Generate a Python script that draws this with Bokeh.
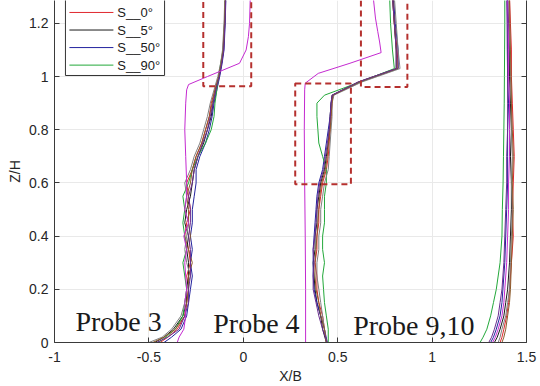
from bokeh.plotting import figure
from bokeh.models import Range1d, LinearAxis, FixedTicker, Label
from bokeh.core.properties import value
from bokeh.embed import file_html
from bokeh.resources import INLINE

# ---- axes ----
X_TICKS = [-1, -0.5, 0, 0.5, 1, 1.5]
X_TICK_LABELS = ["-1", "-0.5", "0", "0.5", "1", "1.5"]
Y_TICKS = [0, 0.2, 0.4, 0.6, 0.8, 1.0, 1.2]
Y_TICK_LABELS = ["0", "0.2", "0.4", "0.6", "0.8", "1", "1.2"]

SERIES_NAMES = ["S__0°", "S__5°", "S__50°", "S__90°"]

# ---- Probe 3 profiles (X/B at each Z/H) ----
P3_Z = [0, 0.02, 0.05, 0.1, 0.15, 0.2, 0.25, 0.3, 0.35, 0.4, 0.45, 0.5, 0.55,
        0.6, 0.65, 0.7, 0.75, 0.8, 0.85, 0.9, 0.95, 1.0, 1.05, 1.1, 1.2, 1.3]
P3_RED = [-0.44, -0.40, -0.35, -0.31, -0.30, -0.29, -0.30, -0.28, -0.29, -0.31, -0.30, -0.28, -0.29,
          -0.30, -0.27, -0.25, -0.22, -0.20, -0.18, -0.17, -0.15, -0.13, -0.118, -0.108, -0.10, -0.097]
P3_BLACK = [-0.47, -0.42, -0.37, -0.32, -0.30, -0.30, -0.29, -0.29, -0.30, -0.29, -0.31, -0.30, -0.28,
            -0.27, -0.26, -0.24, -0.21, -0.19, -0.17, -0.16, -0.145, -0.128, -0.115, -0.105, -0.098, -0.094]
P3_BLUE = [-0.42, -0.38, -0.33, -0.30, -0.29, -0.28, -0.27, -0.28, -0.27, -0.28, -0.27, -0.27, -0.26,
           -0.25, -0.25, -0.23, -0.20, -0.18, -0.165, -0.155, -0.14, -0.125, -0.112, -0.102, -0.096, -0.092]
P3_GREEN = [-0.45, -0.41, -0.36, -0.32, -0.31, -0.30, -0.31, -0.32, -0.30, -0.31, -0.32, -0.31, -0.32,
            -0.29, -0.27, -0.24, -0.20, -0.17, -0.155, -0.15, -0.14, -0.13, -0.12, -0.107, -0.10, -0.096]
P3_GRAY = [-0.50, -0.43, -0.38, -0.33, -0.31, -0.30, -0.28, -0.30, -0.31, -0.30, -0.29, -0.31, -0.30,
           -0.31, -0.28, -0.26, -0.23, -0.21, -0.19, -0.175, -0.155, -0.135, -0.12, -0.11, -0.102, -0.098]
P3_BROWN = [-0.48, -0.42, -0.36, -0.31, -0.30, -0.29, -0.29, -0.27, -0.29, -0.28, -0.29, -0.29, -0.30,
            -0.28, -0.27, -0.25, -0.22, -0.20, -0.18, -0.165, -0.15, -0.13, -0.117, -0.106, -0.099, -0.095]
P3_PURPLE = [-0.46, -0.40, -0.34, -0.31, -0.29, -0.29, -0.28, -0.28, -0.28, -0.29, -0.28, -0.28, -0.29,
             -0.27, -0.26, -0.24, -0.215, -0.19, -0.175, -0.16, -0.145, -0.127, -0.114, -0.104, -0.097, -0.093]
P3_MAG_Z = [0, 0.02, 0.05, 0.1, 0.15, 0.2, 0.25, 0.3, 0.35, 0.4, 0.45, 0.5, 0.55,
            0.6, 0.7, 0.8, 0.9, 0.95, 0.97, 1.0, 1.05, 1.1, 1.15, 1.2, 1.3]
P3_MAG = [-0.35, -0.34, -0.315, -0.305, -0.31, -0.30, -0.305, -0.31, -0.30, -0.315, -0.29, -0.31, -0.30,
          -0.30, -0.305, -0.31, -0.305, -0.30, -0.29, -0.19, -0.02, 0.015, 0.027, 0.033, 0.037]

# ---- Probe 4 profiles ----
P4_Z = [0, 0.05, 0.1, 0.15, 0.2, 0.25, 0.3, 0.35, 0.4, 0.45, 0.5, 0.55, 0.6,
        0.65, 0.7, 0.75, 0.8, 0.85, 0.9, 0.93, 0.98, 1.03, 1.1, 1.2, 1.3]
P4_RED = [0.44, 0.43, 0.42, 0.40, 0.39, 0.39, 0.38, 0.39, 0.39, 0.40, 0.40, 0.41, 0.42,
          0.44, 0.45, 0.455, 0.46, 0.465, 0.47, 0.475, 0.62, 0.82, 0.815, 0.80, 0.795]
P4_BLACK = [0.44, 0.42, 0.41, 0.39, 0.38, 0.375, 0.37, 0.38, 0.38, 0.39, 0.39, 0.40, 0.41,
            0.43, 0.44, 0.45, 0.455, 0.46, 0.465, 0.47, 0.61, 0.81, 0.81, 0.80, 0.79]
P4_BLUE = [0.445, 0.43, 0.41, 0.39, 0.375, 0.37, 0.37, 0.37, 0.375, 0.38, 0.385, 0.39, 0.40,
           0.42, 0.43, 0.44, 0.45, 0.46, 0.465, 0.475, 0.62, 0.82, 0.82, 0.805, 0.795]
P4_GREEN = [0.45, 0.45, 0.44, 0.43, 0.425, 0.42, 0.43, 0.42, 0.42, 0.43, 0.43, 0.43, 0.44,
            0.44, 0.42, 0.40, 0.395, 0.39, 0.39, 0.43, 0.62, 0.80, 0.79, 0.78, 0.775]
P4_GRAY = [0.44, 0.43, 0.42, 0.41, 0.40, 0.39, 0.39, 0.40, 0.40, 0.41, 0.41, 0.42, 0.43,
           0.45, 0.455, 0.46, 0.465, 0.47, 0.47, 0.48, 0.63, 0.83, 0.82, 0.81, 0.80]
P4_BROWN = [0.44, 0.43, 0.41, 0.40, 0.385, 0.38, 0.38, 0.385, 0.39, 0.395, 0.40, 0.405, 0.415,
            0.435, 0.445, 0.45, 0.46, 0.465, 0.47, 0.475, 0.615, 0.815, 0.81, 0.80, 0.79]
P4_PURPLE = [0.445, 0.42, 0.40, 0.385, 0.37, 0.37, 0.375, 0.37, 0.38, 0.385, 0.39, 0.395, 0.405,
             0.425, 0.435, 0.445, 0.455, 0.46, 0.465, 0.47, 0.61, 0.81, 0.81, 0.80, 0.79]
P4_MAG_Z = [0, 0.2, 0.4, 0.6, 0.8, 0.95, 0.975, 1.012, 1.05, 1.09, 1.13, 1.17, 1.22, 1.3]
P4_MAG = [0.33, 0.33, 0.328, 0.325, 0.323, 0.325, 0.328, 0.397, 0.565, 0.73, 0.722, 0.712, 0.70, 0.688]

# ---- Probe 9,10 profiles ----
P9_Z = [0, 0.02, 0.05, 0.1, 0.15, 0.2, 0.3, 0.4, 0.5, 0.6, 0.7, 0.8, 0.9, 1.0, 1.1, 1.2, 1.3]
P9_RED = [1.36, 1.37, 1.38, 1.395, 1.405, 1.41, 1.42, 1.43, 1.425, 1.43, 1.435, 1.43, 1.425, 1.42, 1.42, 1.415, 1.41]
P9_BLACK = [1.33, 1.345, 1.36, 1.38, 1.39, 1.40, 1.41, 1.415, 1.42, 1.42, 1.415, 1.42, 1.415, 1.41, 1.41, 1.405, 1.40]
P9_BLUE = [1.31, 1.325, 1.34, 1.36, 1.37, 1.375, 1.385, 1.39, 1.395, 1.40, 1.40, 1.40, 1.405, 1.40, 1.40, 1.40, 1.398]
P9_GREEN = [1.254, 1.27, 1.29, 1.31, 1.325, 1.34, 1.36, 1.37, 1.372, 1.376, 1.378, 1.38, 1.382, 1.383, 1.384, 1.385, 1.385]
P9_GRAY = [1.35, 1.36, 1.37, 1.39, 1.40, 1.41, 1.415, 1.42, 1.425, 1.42, 1.425, 1.42, 1.42, 1.415, 1.412, 1.41, 1.405]
P9_BROWN = [1.37, 1.38, 1.39, 1.40, 1.41, 1.415, 1.42, 1.425, 1.43, 1.425, 1.43, 1.425, 1.42, 1.418, 1.415, 1.412, 1.41]
P9_PURPLE = [1.30, 1.315, 1.33, 1.35, 1.36, 1.37, 1.38, 1.385, 1.39, 1.395, 1.395, 1.40, 1.40, 1.40, 1.398, 1.397, 1.395]
P9_MAG = [1.32, 1.335, 1.35, 1.37, 1.38, 1.385, 1.395, 1.40, 1.405, 1.405, 1.41, 1.41, 1.41, 1.405, 1.405, 1.403, 1.40]

# ---- highlighted zones (dashed boxes) ----
BOX_LEFT = [-0.212, 0.275, 0.623]
BOX_RIGHT = [0.042, 0.570, 0.869]
BOX_BOTTOM = [0.964, 0.595, 0.961]
BOX_TOP = [1.40, 0.974, 1.40]

RED, BLACK, BLUE, GREEN = "#e0282e", "#1a1a1a", "#23239e", "#23a83a"
MAGENTA, GRAY, BROWN, PURPLE = "#c42ad0", "#808080", "#8c5a2b", "#6b2d8f"
AXIS_COLOR = "#3a3a3a"
TEXT_COLOR = "#262626"
FONT = "Liberation Sans"

p = figure(width=540, height=386, x_range=Range1d(-1, 1.5), y_range=Range1d(0, 1.286),
           output_backend="svg", toolbar_location=None,
           min_border_left=54, min_border_right=14, min_border_top=0, min_border_bottom=43)
p.outline_line_color = None
p.background_fill_color = "white"
p.border_fill_color = "white"

# grid
p.xgrid.ticker = FixedTicker(ticks=X_TICKS)
p.ygrid.ticker = FixedTicker(ticks=Y_TICKS)
p.grid.grid_line_color = "#e9e9e9"
p.grid.grid_line_width = 1

# axes
for ax, ticks, labels in ((p.xaxis[0], X_TICKS, X_TICK_LABELS), (p.yaxis[0], Y_TICKS, Y_TICK_LABELS)):
    ax.ticker = FixedTicker(ticks=ticks)
    ax.major_label_overrides = dict(zip(ticks, labels))
    ax.major_tick_in = 5
    ax.major_tick_out = 0
    ax.minor_tick_line_color = None
    ax.axis_line_color = AXIS_COLOR
    ax.major_tick_line_color = AXIS_COLOR
    ax.major_label_text_color = TEXT_COLOR
    ax.major_label_text_font = FONT
    ax.major_label_text_font_size = "14px"
    ax.axis_label_text_font = FONT
    ax.axis_label_text_font_size = "14px"
    ax.axis_label_text_font_style = "normal"
    ax.axis_label_text_color = TEXT_COLOR

p.xaxis.axis_label = "X/B"
p.yaxis.axis_label = "Z/H"
p.xaxis.major_label_standoff = 9
p.xaxis.axis_label_standoff = 3
p.yaxis.major_label_standoff = 6
p.yaxis.axis_label_standoff = 3

right_axis = LinearAxis(ticker=FixedTicker(ticks=Y_TICKS),
                        major_label_overrides={t: "" for t in Y_TICKS},
                        major_label_text_font_size="1px", major_label_standoff=0,
                        major_tick_in=5, major_tick_out=0, minor_tick_line_color=None,
                        axis_line_color=AXIS_COLOR, major_tick_line_color=AXIS_COLOR)
p.add_layout(right_axis, "right")

# profile lines
groups = [
    (P3_Z, [(P3_RED, RED), (P3_BLACK, BLACK), (P3_BLUE, BLUE), (P3_GREEN, GREEN),
            (P3_GRAY, GRAY), (P3_BROWN, BROWN), (P3_PURPLE, PURPLE)]),
    (P4_Z, [(P4_RED, RED), (P4_BLACK, BLACK), (P4_BLUE, BLUE), (P4_GREEN, GREEN),
            (P4_GRAY, GRAY), (P4_BROWN, BROWN), (P4_PURPLE, PURPLE)]),
    (P9_Z, [(P9_RED, RED), (P9_BLACK, BLACK), (P9_BLUE, BLUE), (P9_GREEN, GREEN),
            (P9_GRAY, GRAY), (P9_BROWN, BROWN), (P9_PURPLE, PURPLE), (P9_MAG, MAGENTA)]),
]
for z, series in groups:
    for xs, color in series:
        p.line(xs, z, line_color=color, line_width=1)

p.line(P3_MAG, P3_MAG_Z, line_color=MAGENTA, line_width=1)
p.line(P4_MAG, P4_MAG_Z, line_color=MAGENTA, line_width=1)

# dashed zones
p.quad(left=BOX_LEFT, right=BOX_RIGHT, bottom=BOX_BOTTOM, top=BOX_TOP,
       fill_color=None, line_color="#b5302e", line_width=2, line_dash="6 4")

# probe annotations
for x, y, txt in ((-0.889, 0.079, "Probe 3"), (-0.159, 0.071, "Probe 4"), (0.582, 0.064, "Probe 9,10")):
    p.add_layout(Label(x=x, y=y, text=txt, text_font="Liberation Serif",
                       text_font_size="28px", text_color="#1a1a1a", text_baseline="alphabetic"))

# key box in the upper-left corner (its top runs past the frame edge)
key_rows_y = [1.241, 1.175, 1.109, 1.043]
p.quad(left=-0.942, right=-0.417, bottom=1.004, top=1.40,
       fill_color="white", line_color="#333333", line_width=1)
p.segment(x0=-0.921, x1=-0.688, y0=key_rows_y, y1=key_rows_y,
          line_color=[RED, BLACK, BLUE, GREEN], line_width=1)
p.text(x=-0.667, y=key_rows_y, text=SERIES_NAMES, text_font=value(FONT),
       text_font_size="13px", text_color="#1a1a1a", text_baseline="middle")

open("out.html", "w").write(file_html(p, INLINE))
